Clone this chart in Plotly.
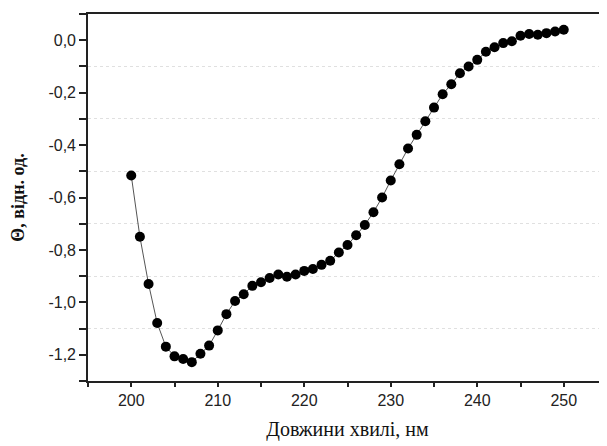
import plotly.graph_objects as go

wavelength = list(range(200, 251))
theta = [
    -0.516, -0.750, -0.930, -1.079, -1.169, -1.206, -1.216, -1.228, -1.196, -1.165,
    -1.107, -1.045, -0.995, -0.969, -0.937, -0.923, -0.907, -0.894, -0.902, -0.894,
    -0.880, -0.873, -0.857, -0.841, -0.810, -0.781, -0.744, -0.705, -0.656, -0.600,
    -0.535, -0.473, -0.413, -0.361, -0.309, -0.257, -0.206, -0.168, -0.126, -0.100,
    -0.075, -0.044, -0.027, -0.011, -0.004, 0.017, 0.024, 0.021, 0.027, 0.033,
    0.040,
]

x_tickvals = [200, 210, 220, 230, 240, 250]
x_ticktext = ["200", "210", "220", "230", "240", "250"]
y_tickvals = [0.0, -0.2, -0.4, -0.6, -0.8, -1.0, -1.2]
y_ticktext = ["0,0", "-0,2", "-0,4", "-0,6", "-0,8", "-1,0", "-1,2"]

x_title = "Довжини хвилі, нм"
y_title = "Θ, відн. од."

fig = go.Figure()
fig.add_trace(go.Scatter(
    x=wavelength, y=theta, mode="lines+markers",
    line=dict(color="#555555", width=1),
    marker=dict(color="black", size=10),
    showlegend=False,
))

axis_common = dict(
    showline=True, linecolor="#222222", linewidth=1.6,
    ticks="outside", tickcolor="#222222", tickwidth=1.5,
    tickfont=dict(family="Liberation Sans, Arial", size=16, color="#222222"),
    zeroline=False, showgrid=False, automargin=False,
)

fig.update_xaxes(
    **axis_common,
    range=[195, 255], tickvals=x_tickvals, ticktext=x_ticktext, ticklen=4,
    mirror=True,
    minor=dict(dtick=5, tick0=195, ticks="outside", ticklen=4, tickcolor="#222222", tickwidth=1.5),
    title=dict(text=x_title, font=dict(family="Liberation Serif, Times New Roman", size=20, color="#111111"), standoff=14),
)
fig.update_yaxes(
    **axis_common,
    range=[-1.3, 0.1], tickvals=y_tickvals, ticktext=y_ticktext, ticklen=7,
    minor=dict(dtick=0.2, tick0=-0.1, ticks="outside", ticklen=7, tickcolor="#222222", tickwidth=1.5,
               showgrid=True, gridcolor="#e0e0e0", griddash="dot", gridwidth=1),
    title=dict(text="<b>" + y_title + "</b>", font=dict(family="Liberation Serif, Times New Roman", size=18, color="#111111"), standoff=20),
)

fig.update_layout(
    width=607, height=446,
    margin=dict(l=80, r=8, t=6, b=73),
    plot_bgcolor="white", paper_bgcolor="white",
)

fig.write_html("out.html")
